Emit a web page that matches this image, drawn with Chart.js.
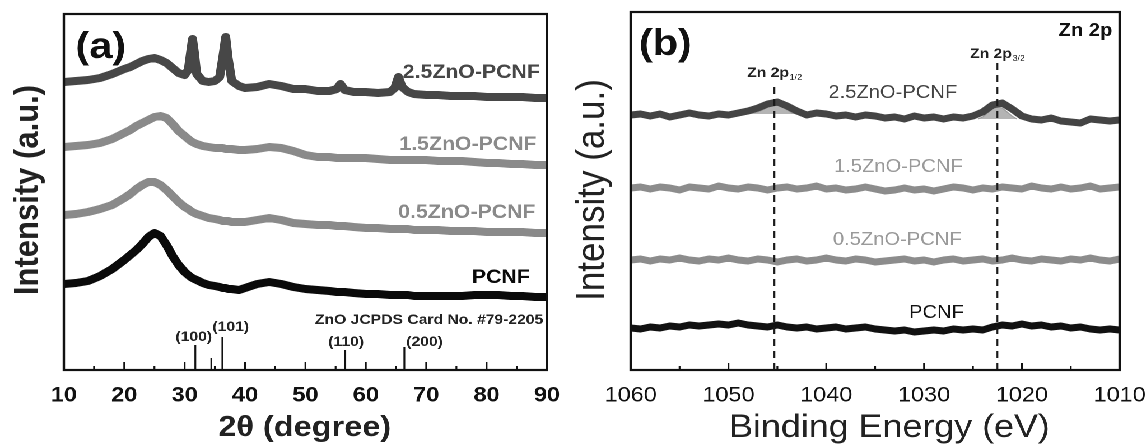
<!DOCTYPE html>
<html>
<head>
<meta charset="utf-8">
<script src="https://cdn.jsdelivr.net/npm/chart.js@4.4.1/dist/chart.umd.min.js"></script>
<style>
  html, body { margin: 0; padding: 0; background: #fff; overflow: hidden; }
  #stage { position: absolute; left: 0; top: 0; width: 1023px; height: 445px;
           transform: scaleX(1.1202); transform-origin: 0 0; }
  .panel { position: absolute; top: 0; height: 445px; }
</style>
</head>
<body>
<div id="stage">
  <div class="panel" style="left:0;width:510px"><canvas id="xrd"></canvas></div>
  <div class="panel" style="left:510px;width:513px"><canvas id="xps"></canvas></div>
</div>
<script>
// ---------- (a) XRD patterns, offset stacked (a.u.) ----------
const twoTheta = [10,12,14,16,18,20,21,22,23,24,25,26,27,28,29,30,30.6,31,31.3,31.6,32,33,34,35,
  35.8,36.3,36.8,37.2,37.8,39,40,42,44,46,48,50,52,54,55.2,55.8,56.5,58,60,62,64,64.8,65.4,66,67,68,
  70,72,74,76,78,80,82,84,86,88,90];

const xrd25ZnO = [288,289,290,292,296,301,303,306,309,311,312,310,307,302,297,295,300,318,331,318,
  296,289,288,289,293,312,333,312,289,284,282,283,286,284,281,281,279,279,281,286,280,278,278,277,
  278,282,293,283,278,276,275,275,274,274,274,273,273,273,273,272,272];

const xrd15ZnO = [223,224,225,227,231,237,240,244,247,250,253,254,252,246,239,234,231,229,228,227,
  226,224,223,222,222,222,221,221,221,220,220,221,223,222,219,215,213,213,212,212,212,212,212,211,
  210,210,210,210,210,210,210,209,209,209,208,207,207,206,206,205,205];

const xrd05ZnO = [155,156,158,161,165,172,176,181,185,188,188,185,180,174,168,163,161,159,158,157,
  156,154,152,151,150,149,149,149,148,148,148,150,152,150,147,146,145,145,144,144,144,143,142,142,
  141,141,141,141,141,140,140,140,139,139,139,138,138,138,138,137,137];

const xrdPCNF = [86,87,89,94,101,110,115,120,126,133,137,134,125,114,105,98,95,93,92,91,
  90,87,85,84,83,82,82,81,81,80,82,86,88,86,83,81,80,79,78,78,78,77,76,76,
  75,75,75,75,75,74,74,74,74,74,75,75,75,74,74,73,73];

// ZnO reference reflections (JCPDS 79-2205)
const jcpdsAngle     = [31.77, 34.42, 36.25, 56.60, 66.38];
const jcpdsIntensity = [25, 12, 33, 20, 23];
const jcpdsHKL       = ['(100)', '', '(101)', '(110)', '(200)'];

// ---------- (b) Zn 2p XPS spectra, offset stacked (a.u.) ----------
const bindingEnergy = [1060,1059,1058,1057,1056,1055,1054,1053,1052,1051,1050,1049,1048,1047,1046,
  1045,1044,1043,1042,1041,1040,1039,1038,1037,1036,1035,1034,1033,1032,1031,1030,1029,1028,1027,
  1026,1025,1024,1023,1022,1021,1020,1019,1018,1017,1016,1015,1014,1013,1012,1011,1010];

const xps25ZnO = [255,256,254,256,253,255,257,255,254,256,255,257,259,262,266,268,264,259,255,257,
  256,254,255,253,255,254,252,253,251,254,252,253,251,253,252,254,258,265,267,261,254,251,250,252,
  249,248,247,251,250,249,250];

const xps15ZnO = [182,183,181,183,182,180,183,182,181,184,182,181,183,182,180,182,183,181,182,184,
  181,182,180,181,183,181,179,180,182,180,181,179,181,183,182,180,182,181,183,182,181,184,182,181,
  183,181,182,184,181,182,183];

const xps05ZnO = [110,111,109,111,110,112,110,109,111,110,112,110,109,111,110,108,110,111,109,110,
  112,110,109,111,110,108,109,110,111,109,110,108,110,111,109,110,111,109,110,112,110,109,111,110,
  109,111,110,112,110,109,111];

const xpsPCNF = [42,41,43,42,44,43,45,44,45,46,45,47,45,44,43,45,43,42,43,41,42,43,41,42,43,41,40,
  39,40,38,39,40,39,41,40,41,40,43,45,44,46,44,45,43,44,42,43,41,40,41,40];

// fitted Zn 2p components on the 2.5ZnO-PCNF spectrum
const fit2p12Energy = [1048,1047.5,1047,1046.5,1046,1045.5,1045,1044.5,1044,1043.5,1043];
const fit2p12Value  = [256,257,258,260,263,265,265,263,260,257,256];
const fit2p32Energy = [1024.5,1024,1023.5,1023,1022.5,1022,1021.5,1021,1020.5];
const fit2p32Value  = [251,253,257,261,263,262,258,254,251];

// Zn 2p peak positions (eV) and marker heights
const zn2pEnergy = [1045.3, 1022.5];
const zn2pMarkTop = [288, 307];

// ---------- helpers ----------
const FONT = '"Liberation Sans", Arial, Helvetica, sans-serif';
Chart.defaults.font.family = FONT;
const pts = (xs, ys) => xs.map((x, i) => ({ x, y: ys[i] }));

function traceSet(data, color, width, order) {
  return { data, showLine: true, borderColor: color, borderWidth: width, pointRadius: 0,
           borderJoinStyle: 'round', fill: false, order: order || 0 };
}

// box frame with inward ticks on the bottom axis
const framePlugin = {
  id: 'frame',
  afterDraw(chart, args, o) {
    const { ctx, chartArea: a, scales: { x } } = chart;
    ctx.save();
    ctx.strokeStyle = '#111';
    ctx.lineWidth = 1.6;
    for (let v = o.min; v <= o.max + 1e-9; v += o.minorStep) {
      const px = x.getPixelForValue(v);
      const len = (Math.round(v) % o.majorStep === 0) ? o.major : o.minor;
      ctx.beginPath(); ctx.moveTo(px, a.bottom); ctx.lineTo(px, a.bottom - len); ctx.stroke();
    }
    ctx.lineWidth = 2.2;
    ctx.strokeRect(a.left, a.top, a.right - a.left, a.bottom - a.top);
    ctx.restore();
  }
};

// free text: titles, panel tags, series names
const textPlugin = {
  id: 'panelText',
  afterDraw(chart, args, o) {
    const ctx = chart.ctx;
    for (const t of o.items) {
      ctx.save();
      ctx.font = t.font;
      ctx.fillStyle = t.color || '#111';
      ctx.textAlign = t.align || 'center';
      ctx.textBaseline = 'middle';
      ctx.translate(t.x, t.y);
      if (t.rot) ctx.rotate(t.rot);
      ctx.fillText(t.text, 0, 0);
      if (t.sub) {
        const w = ctx.measureText(t.text).width;
        ctx.font = t.subFont;
        ctx.textAlign = 'left';
        ctx.fillText(t.sub, w + 0.5, 5);
      }
      ctx.restore();
    }
  }
};

function baseOptions(xMin, xMax, reverse, yMax, yWidth, pad, tickFont) {
  return {
    responsive: true, maintainAspectRatio: false, animation: false, events: [],
    devicePixelRatio: 2,
    layout: { padding: pad },
    plugins: { legend: { display: false }, tooltip: { enabled: false } },
    scales: {
      x: {
        type: 'linear', min: xMin, max: xMax, reverse,
        grid: { display: false, drawTicks: true, tickLength: 13 }, border: { display: false },
        ticks: { stepSize: 10, autoSkip: false, maxRotation: 0, padding: 0,
                 color: '#111', font: tickFont, callback: v => String(v) },
        afterFit: s => { s.height = 75; }
      },
      y: {
        min: 0, max: yMax,
        grid: { display: false, drawTicks: false }, border: { display: false },
        ticks: { display: false },
        afterFit: s => { s.width = yWidth; }
      }
    }
  };
}

// ---------- chart (a) ----------
const jcpdsSegments = jcpdsAngle.flatMap((a, i) =>
  [{ x: a, y: 0 }, { x: a, y: jcpdsIntensity[i] }, { x: a, y: null }]);

const optA = baseOptions(10, 90, false, 356, 57, { left: 0, right: 21.7, top: 14, bottom: 0 },
  { size: 21, weight: 'bold' });
optA.plugins.frame = { min: 10, max: 90, minorStep: 5, majorStep: 10, major: 8, minor: 4 };
optA.plugins.panelText = { items: [
  { text: '(a)', x: 90, y: 48, font: `bold 37px ${FONT}` },
  { text: 'Intensity (a.u.)', x: 25, y: 190, rot: -Math.PI / 2, font: `bold 31px ${FONT}`, color: '#222' },
  { text: '2\u03b8 (degree)', x: 272, y: 428, font: `bold 29px ${FONT}`, color: '#222' },
  { text: '2.5ZnO-PCNF', x: 482, y: 73, align: 'right', font: `bold 19px ${FONT}`, color: '#474747' },
  { text: '1.5ZnO-PCNF', x: 479, y: 145, align: 'right', font: `bold 19px ${FONT}`, color: '#8a8a8a' },
  { text: '0.5ZnO-PCNF', x: 478, y: 213, align: 'right', font: `bold 19px ${FONT}`, color: '#8a8a8a' },
  { text: 'PCNF', x: 473, y: 278, align: 'right', font: `bold 19px ${FONT}`, color: '#0a0a0a' },
  { text: 'ZnO JCPDS Card No. #79-2205', x: 485, y: 320, align: 'right', font: `bold 14px ${FONT}`, color: '#222' },
  { text: jcpdsHKL[0], x: 173, y: 337, font: `bold 14px ${FONT}`, color: '#222' },
  { text: jcpdsHKL[2], x: 206, y: 327, font: `bold 14px ${FONT}`, color: '#222' },
  { text: jcpdsHKL[3], x: 309, y: 342, font: `bold 14px ${FONT}`, color: '#222' },
  { text: jcpdsHKL[4], x: 379, y: 342, font: `bold 14px ${FONT}`, color: '#222' }
] };

new Chart(document.getElementById('xrd'), {
  type: 'scatter',
  data: { datasets: [
    traceSet(pts(twoTheta, xrd25ZnO), '#474747', 8),
    traceSet(pts(twoTheta, xrd15ZnO), '#8a8a8a', 8),
    traceSet(pts(twoTheta, xrd05ZnO), '#8a8a8a', 8),
    traceSet(pts(twoTheta, xrdPCNF), '#0a0a0a', 8),
    { data: jcpdsSegments, showLine: true, spanGaps: false, borderColor: '#111', borderWidth: 1.6,
      pointRadius: 0, fill: false }
  ] },
  options: optA,
  plugins: [framePlugin, textPlugin]
});

// ---------- chart (b) ----------
const optB = baseOptions(1010, 1060, true, 358, 53, { left: 0, right: 23.5, top: 12, bottom: 0 },
  { size: 21, weight: 'normal' });
optB.plugins.frame = { min: 1010, max: 1060, minorStep: 5, majorStep: 10, major: 7, minor: 4 };
optB.plugins.panelText = { items: [
  { text: '(b)', x: 84, y: 45, font: `bold 37px ${FONT}` },
  { text: 'Zn 2p', x: 483, y: 31, align: 'right', font: `bold 18px ${FONT}` },
  { text: 'Intensity (a.u.)', x: 19.5, y: 190, rot: -Math.PI / 2, font: `35px ${FONT}`, color: '#222' },
  { text: 'Binding Energy (eV)', x: 284, y: 428, font: `32px ${FONT}`, color: '#222' },
  { text: 'Zn 2p', sub: '1/2', x: 157, y: 73, align: 'left', font: `bold 14px ${FONT}`,
    subFont: `8px ${FONT}`, color: '#222' },
  { text: 'Zn 2p', sub: '3/2', x: 356, y: 54, align: 'left', font: `bold 14px ${FONT}`,
    subFont: `8px ${FONT}`, color: '#222' },
  { text: '2.5ZnO-PCNF', x: 287, y: 93, font: `18px ${FONT}`, color: '#444' },
  { text: '1.5ZnO-PCNF', x: 292, y: 167, font: `18px ${FONT}`, color: '#9a9a9a' },
  { text: '0.5ZnO-PCNF', x: 291, y: 240, font: `18px ${FONT}`, color: '#9a9a9a' },
  { text: 'PCNF', x: 326, y: 313, font: `18px ${FONT}`, color: '#111' }
] };

const markerSets = zn2pEnergy.map((e, i) => ({
  data: [{ x: e, y: 0 }, { x: e, y: zn2pMarkTop[i] }], showLine: true, borderColor: '#1a1a1a',
  borderWidth: 1.6, borderDash: [7, 5], pointRadius: 0, fill: false, order: -1
}));

new Chart(document.getElementById('xps'), {
  type: 'scatter',
  data: { datasets: [
    ...markerSets,
    traceSet(pts(bindingEnergy, xps25ZnO), '#444444', 7),
    traceSet(pts(bindingEnergy, xps15ZnO), '#8c8c8c', 7),
    traceSet(pts(bindingEnergy, xps05ZnO), '#8c8c8c', 7),
    traceSet(pts(bindingEnergy, xpsPCNF), '#111111', 7),
    { data: pts(fit2p12Energy, fit2p12Value), showLine: true, borderColor: '#9a9a9a', borderWidth: 1,
      backgroundColor: '#b4b4b4', pointRadius: 0, fill: { value: 256 }, order: 5 },
    { data: pts(fit2p32Energy, fit2p32Value), showLine: true, borderColor: '#9a9a9a', borderWidth: 1,
      backgroundColor: '#b4b4b4', pointRadius: 0, fill: { value: 251 }, order: 5 }
  ] },
  options: optB,
  plugins: [framePlugin, textPlugin]
});
</script>
</body>
</html>
